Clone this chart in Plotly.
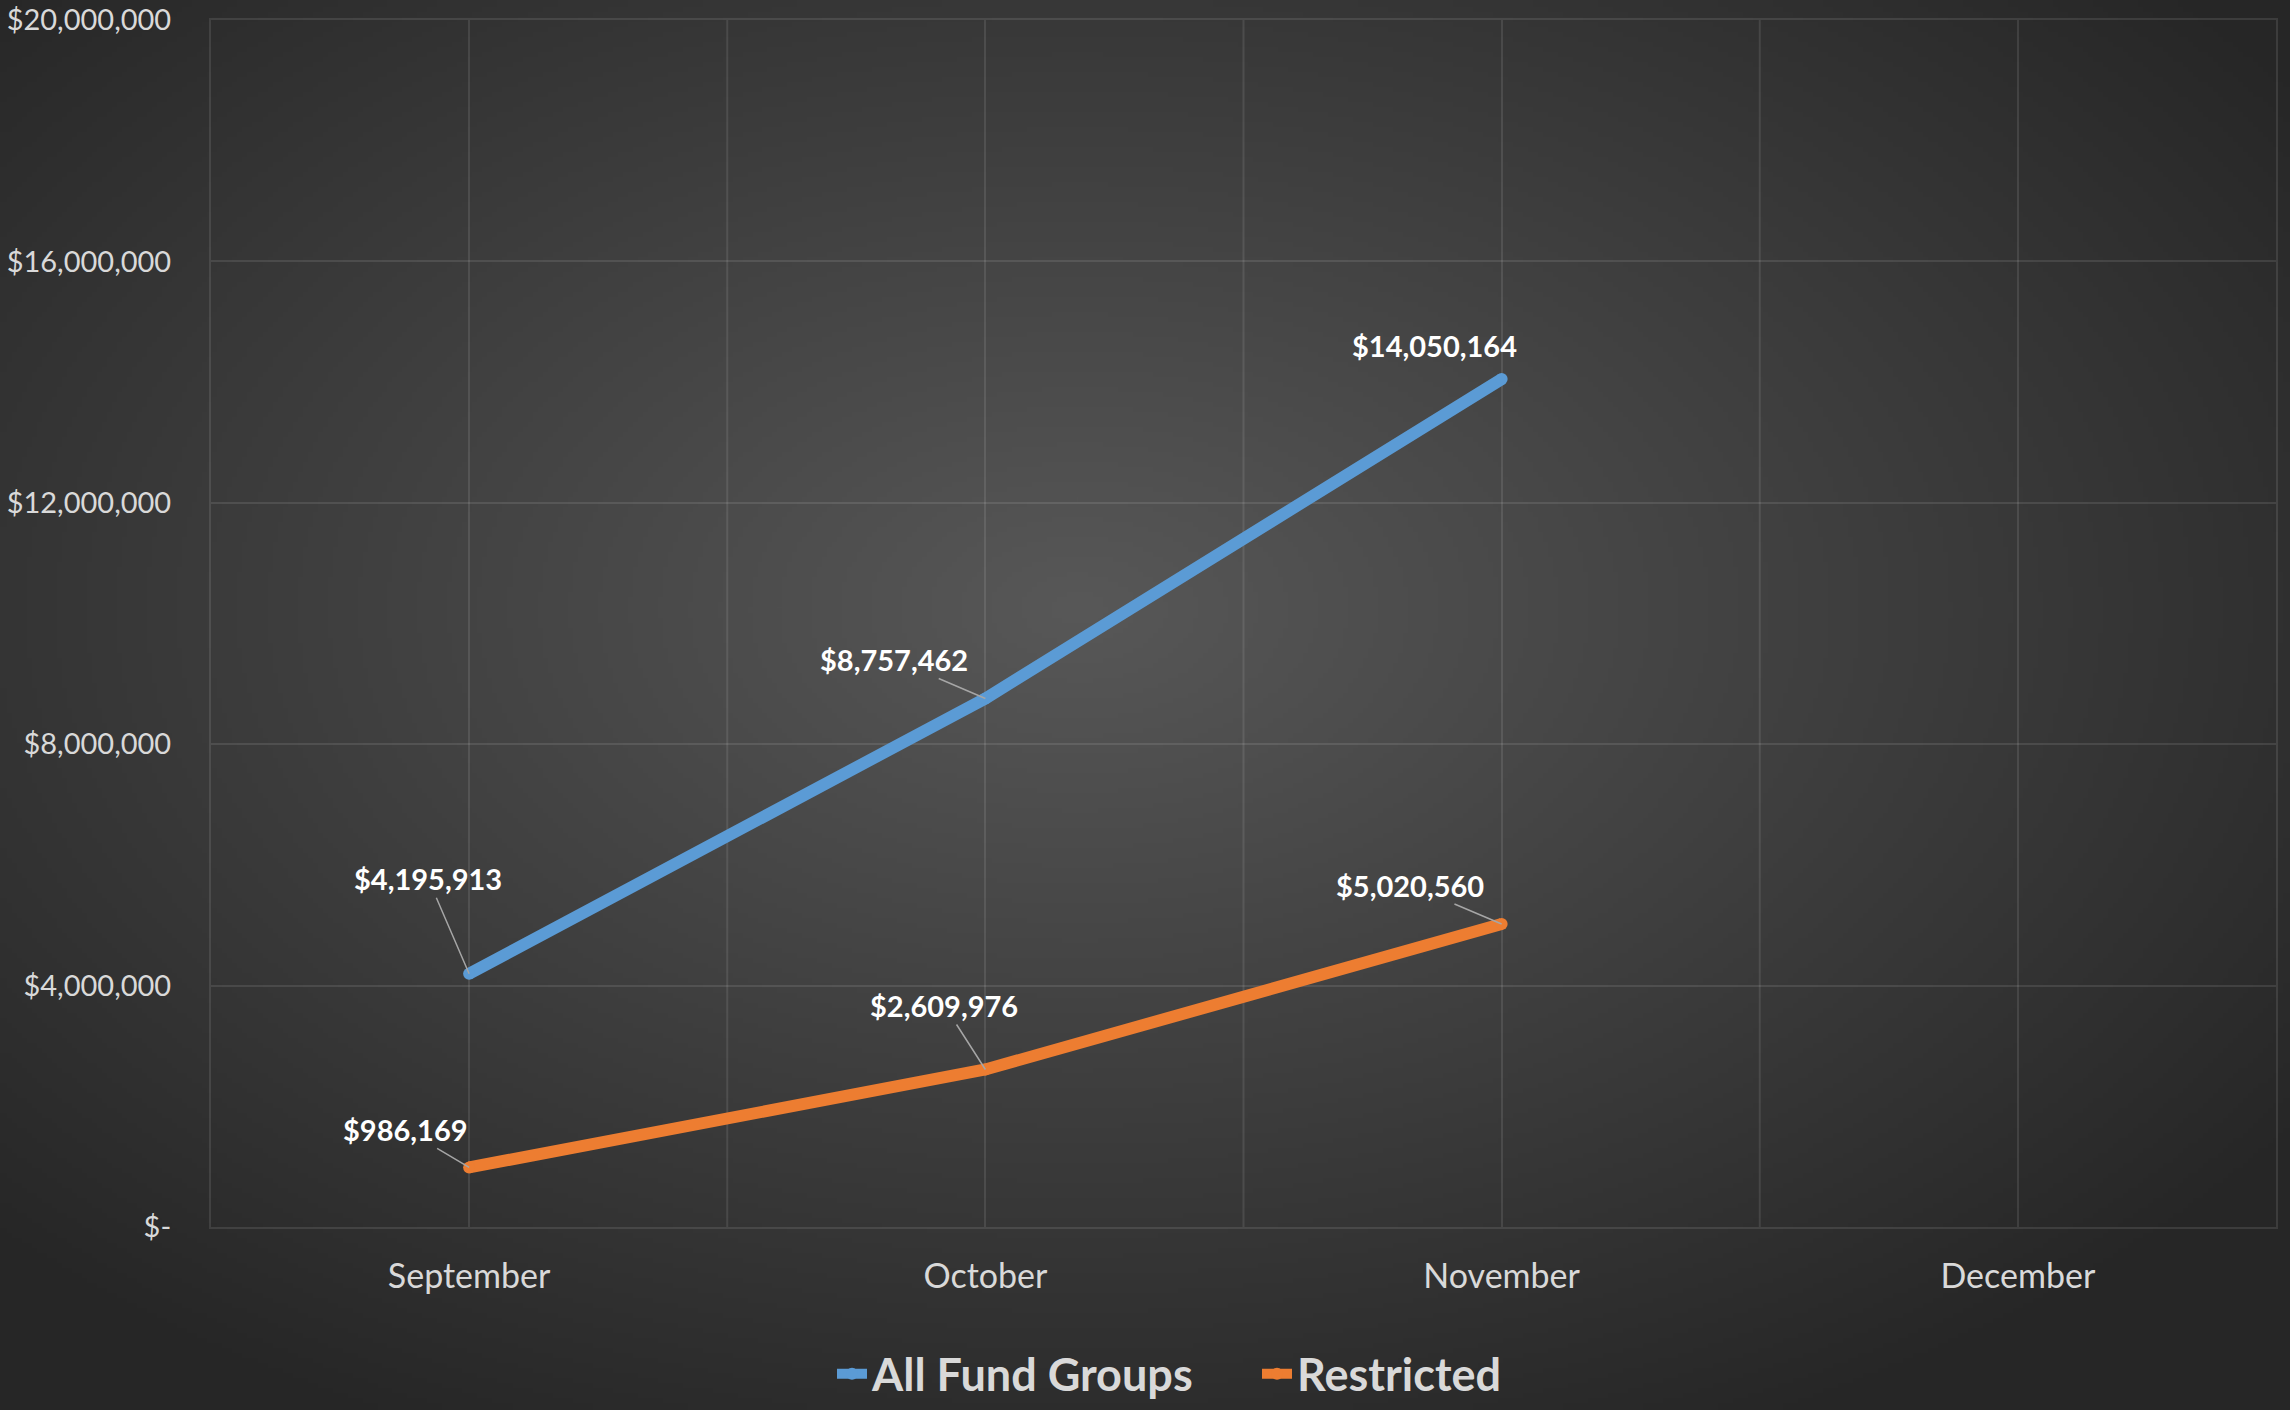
import base64, struct, zlib
import numpy as np
import plotly.graph_objects as go

# ---------------- data ----------------
months = ["September", "October", "November", "December"]
all_fund_groups = [4195913, 8757462, 14050164, None]
restricted = [986169, 2609976, 5020560, None]
y_ticks = [0, 4000000, 8000000, 12000000, 16000000, 20000000]
y_tick_labels = ["$-" if v == 0 else f"${v:,.0f}" for v in y_ticks]

# ---------------- styles ----------------
W, H = 2290, 1410
BLUE = "#5B9BD5"
ORANGE = "#ED7D31"
GRID = "rgba(255,255,255,0.10)"
TXT = "#d9d9d9"
FONT = "Lato"


def gradient_png(w, h):
    yy, xx = np.mgrid[0:h, 0:w].astype(float)
    cx, cy = 0.47 * w, 0.43 * h
    r = np.sqrt(((xx - cx) / (0.5 * w)) ** 2 + ((yy - cy) / (0.5 * h)) ** 2)
    val = np.clip(88 - 38 * r, 38, 90).astype(np.uint8)
    raw = b"".join(b"\x00" + val[i].tobytes() for i in range(h))

    def chunk(tag, data):
        c = struct.pack(">I", len(data)) + tag + data
        return c + struct.pack(">I", zlib.crc32(tag + data) & 0xFFFFFFFF)

    png = b"\x89PNG\r\n\x1a\n"
    png += chunk(b"IHDR", struct.pack(">IIBBBBB", w, h, 8, 0, 0, 0, 0))
    png += chunk(b"IDAT", zlib.compress(raw, 9))
    png += chunk(b"IEND", b"")
    return "data:image/png;base64," + base64.b64encode(png).decode()


fig = go.Figure()
for name, vals, col in [("All Fund Groups", all_fund_groups, BLUE),
                        ("Restricted", restricted, ORANGE)]:
    fig.add_trace(go.Scatter(
        x=months, y=vals, name=name, mode="lines+markers",
        line=dict(color=col, width=12),
        marker=dict(color=col, size=12, line=dict(width=0)),
        hoverinfo="skip", connectgaps=False,
    ))

# data labels (pixel offsets from the point)
label_offsets = {
    ("All Fund Groups", 0): (-41, -95, True),
    ("All Fund Groups", 1): (-91, -39, True),
    ("All Fund Groups", 2): (-67, -34, False),
    ("Restricted", 0): (-64, -38, True),
    ("Restricted", 1): (-41, -64, True),
    ("Restricted", 2): (-92, -39, True),
}
for name, vals in [("All Fund Groups", all_fund_groups), ("Restricted", restricted)]:
    for i, v in enumerate(vals):
        if v is None:
            continue
        dx, dy, arrow = label_offsets[(name, i)]
        common = dict(x=months[i], y=v, xref="x", yref="y", text=f"<b>${v:,.0f}</b>",
                      font=dict(family=FONT, size=29, color="#ffffff"))
        if arrow:
            fig.add_annotation(**common, showarrow=True, ax=dx, ay=dy, axref="pixel", ayref="pixel",
                               arrowhead=0, arrowwidth=1.5, arrowcolor="#a6a6a6", standoff=0)
        else:
            fig.add_annotation(**common, showarrow=False, xshift=dx, yshift=-dy)

# category boundary gridlines
for b in [0.5, 1.5, 2.5]:
    fig.add_shape(type="line", xref="x", yref="paper", x0=b, x1=b, y0=0, y1=1,
                  line=dict(color=GRID, width=2), layer="below")

fig.add_layout_image(dict(source=gradient_png(458, 282), xref="paper", yref="paper",
                          x=-211 / 2065, y=1 + 20 / 1207, sizex=W / 2065, sizey=H / 1207,
                          xanchor="left", yanchor="top", sizing="stretch", layer="below"))

fig.update_layout(
    width=W, height=H,
    margin=dict(l=211, r=14, t=20, b=183, autoexpand=False),
    paper_bgcolor="#262626", plot_bgcolor="rgba(0,0,0,0)",
    font=dict(family=FONT, color=TXT),
    showlegend=True,
    legend=dict(orientation="h", xref="container", yref="container", x=832 / W, xanchor="left",
                y=-0.012, yanchor="bottom", font=dict(family=FONT, size=45, color=TXT,
                                                      weight="bold"),
                bgcolor="rgba(0,0,0,0)", entrywidth=380, entrywidthmode="pixels",
                tracegroupgap=0),
    xaxis=dict(type="category", categoryorder="array", categoryarray=months,
               range=[-0.5, 3.5], showgrid=True, gridcolor=GRID, gridwidth=2,
               showline=True, linecolor=GRID, linewidth=2, mirror=True,
               ticks="", tickfont=dict(family=FONT, size=34, color=TXT),
               ticklabelstandoff=18, zeroline=False, fixedrange=True, automargin=False),
    yaxis=dict(range=[0, 20000000], tickmode="array", tickvals=y_ticks, ticktext=y_tick_labels,
               showgrid=True, gridcolor=GRID, gridwidth=2, zeroline=False,
               showline=True, linecolor=GRID, linewidth=2, mirror=True,
               ticks="", tickfont=dict(family=FONT, size=29, color=TXT),
               ticklabelstandoff=32, fixedrange=True, automargin=False),
)

fig.write_html("out.html", config={"displayModeBar": False},
               post_script="document.body.style.margin='0';document.body.style.background='#262626';")
